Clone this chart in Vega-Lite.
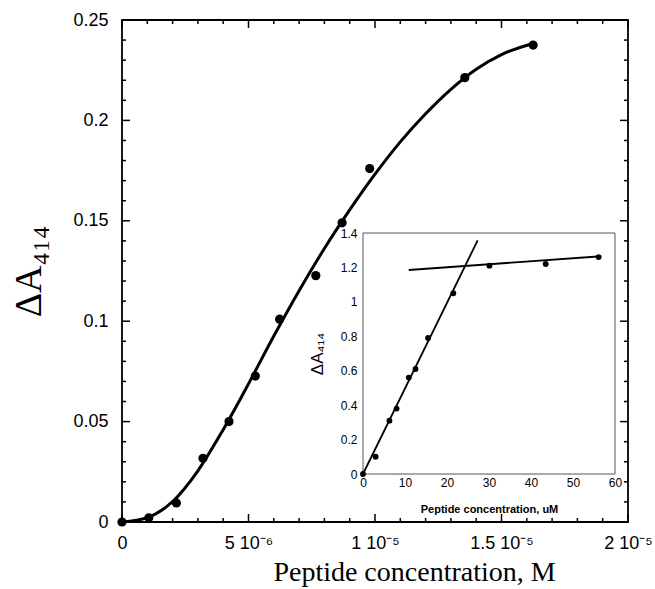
{
  "$schema": "https://vega.github.io/schema/vega-lite/v6.json",
  "width": 506,
  "height": 502,
  "autosize": {"type": "none"},
  "padding": {"left": 122, "top": 20, "right": 27, "bottom": 67},
  "background": "white",
  "config": {
    "view": {"stroke": "black", "strokeWidth": 1.8},
    "axis": {"grid": false, "labelColor": "black", "titleColor": "black", "tickColor": "black", "labelOverlap": false, "labelFlush": false}
  },
  "datasets": {
    "main": [
      {"conc": 0, "dA": 0},
      {"conc": 1.06e-6, "dA": 0.0021},
      {"conc": 2.15e-6, "dA": 0.0095},
      {"conc": 3.2e-6, "dA": 0.0317},
      {"conc": 4.23e-6, "dA": 0.05},
      {"conc": 5.27e-6, "dA": 0.0727},
      {"conc": 6.23e-6, "dA": 0.101},
      {"conc": 7.66e-6, "dA": 0.1227},
      {"conc": 8.7e-6, "dA": 0.149},
      {"conc": 9.79e-6, "dA": 0.176},
      {"conc": 1.355e-5, "dA": 0.2213},
      {"conc": 1.625e-5, "dA": 0.2375}
    ],
    "fit": [
      {"conc": 0, "dA": 0},
      {"conc": 1e-6, "dA": 0.0022},
      {"conc": 2e-6, "dA": 0.0102},
      {"conc": 3e-6, "dA": 0.0255},
      {"conc": 4e-6, "dA": 0.046},
      {"conc": 5e-6, "dA": 0.0688},
      {"conc": 6e-6, "dA": 0.0926},
      {"conc": 7e-6, "dA": 0.1152},
      {"conc": 8e-6, "dA": 0.1362},
      {"conc": 9e-6, "dA": 0.1554},
      {"conc": 1e-5, "dA": 0.1732},
      {"conc": 1.1e-5, "dA": 0.1893},
      {"conc": 1.2e-5, "dA": 0.2033},
      {"conc": 1.3e-5, "dA": 0.2155},
      {"conc": 1.4e-5, "dA": 0.2255},
      {"conc": 1.5e-5, "dA": 0.2328},
      {"conc": 1.625e-5, "dA": 0.2383}
    ],
    "xmajor": [{"v": 0}, {"v": 5e-6}, {"v": 1e-5}, {"v": 1.5e-5}, {"v": 2e-5}],
    "xminor": [
      {"v": 1e-6}, {"v": 2e-6}, {"v": 3e-6}, {"v": 4e-6}, {"v": 6e-6}, {"v": 7e-6}, {"v": 8e-6}, {"v": 9e-6},
      {"v": 1.1e-5}, {"v": 1.2e-5}, {"v": 1.3e-5}, {"v": 1.4e-5}, {"v": 1.6e-5}, {"v": 1.7e-5}, {"v": 1.8e-5}, {"v": 1.9e-5}
    ],
    "ymajor": [{"v": 0}, {"v": 0.05}, {"v": 0.1}, {"v": 0.15}, {"v": 0.2}, {"v": 0.25}],
    "yminor": [
      {"v": 0.01}, {"v": 0.02}, {"v": 0.03}, {"v": 0.04}, {"v": 0.06}, {"v": 0.07}, {"v": 0.08}, {"v": 0.09},
      {"v": 0.11}, {"v": 0.12}, {"v": 0.13}, {"v": 0.14}, {"v": 0.16}, {"v": 0.17}, {"v": 0.18}, {"v": 0.19},
      {"v": 0.21}, {"v": 0.22}, {"v": 0.23}, {"v": 0.24}
    ],
    "inset": [
      {"uM": 0, "dA": 0},
      {"uM": 3.0, "dA": 0.1},
      {"uM": 6.3, "dA": 0.31},
      {"uM": 8.0, "dA": 0.38},
      {"uM": 10.9, "dA": 0.56},
      {"uM": 12.5, "dA": 0.61},
      {"uM": 15.5, "dA": 0.79},
      {"uM": 21.5, "dA": 1.05},
      {"uM": 30.1, "dA": 1.21},
      {"uM": 43.5, "dA": 1.22},
      {"uM": 56.1, "dA": 1.26}
    ],
    "insetLines": [
      {"line": "rise", "uM": 0, "dA": 0},
      {"line": "rise", "uM": 27.3, "dA": 1.357},
      {"line": "plateau", "uM": 10.9, "dA": 1.185},
      {"line": "plateau", "uM": 56.7, "dA": 1.265}
    ],
    "frame": [{"x0": 0, "x1": 60, "y0": 0, "y1": 1.4}]
  },
  "resolve": {"scale": {"x": "independent", "y": "independent"}, "axis": {"x": "independent", "y": "independent"}},
  "layer": [
    {
      "layer": [
        {
          "data": {"name": "fit"},
          "mark": {"type": "line", "color": "black", "strokeWidth": 3, "interpolate": "monotone"},
          "encoding": {
            "x": {"field": "conc", "type": "quantitative", "scale": {"domain": [0, 2e-5], "nice": false},
              "axis": {"orient": "bottom", "domain": false, "ticks": false, "values": [0, 5e-6, 1e-5, 1.5e-5, 2e-5],
                "labelExpr": "datum.value == 0 ? '0' : datum.value < 7e-6 ? '5 10⁻⁶' : datum.value < 1.2e-5 ? '1 10⁻⁵' : datum.value < 1.7e-5 ? '1.5 10⁻⁵' : '2 10⁻⁵'",
                "labelFont": "Liberation Sans", "labelFontSize": 18, "labelPadding": 12,
                "title": "Peptide concentration, M", "titleFont": "Liberation Serif", "titleFontSize": 28, "titleFontWeight": "normal", "titlePadding": 6, "titleX": 292}},
            "y": {"field": "dA", "type": "quantitative", "scale": {"domain": [0, 0.25], "nice": false},
              "axis": {"orient": "left", "domain": false, "ticks": false, "values": [0, 0.05, 0.1, 0.15, 0.2, 0.25], "format": "~g",
                "labelFont": "Liberation Sans", "labelFontSize": 18, "labelPadding": 14,
                "title": "ΔA₄₁₄", "titleFont": "Liberation Serif", "titleFontSize": 38, "titleFontWeight": "normal", "titlePadding": 24}}
          }
        },
        {
          "data": {"name": "main"},
          "mark": {"type": "circle", "color": "black", "opacity": 1, "size": 85},
          "encoding": {
            "x": {"field": "conc", "type": "quantitative"},
            "y": {"field": "dA", "type": "quantitative"}
          }
        },
        {
          "data": {"name": "xmajor"},
          "mark": {"type": "tick", "orient": "vertical", "color": "black", "opacity": 1, "thickness": 1.5, "size": 8, "yOffset": -4},
          "encoding": {"x": {"field": "v", "type": "quantitative"}, "y": {"datum": 0, "type": "quantitative"}}
        },
        {
          "data": {"name": "xmajor"},
          "mark": {"type": "tick", "orient": "vertical", "color": "black", "opacity": 1, "thickness": 1.5, "size": 8, "yOffset": 4},
          "encoding": {"x": {"field": "v", "type": "quantitative"}, "y": {"datum": 0.25, "type": "quantitative"}}
        },
        {
          "data": {"name": "xminor"},
          "mark": {"type": "tick", "orient": "vertical", "color": "black", "opacity": 1, "thickness": 1.5, "size": 4, "yOffset": -2},
          "encoding": {"x": {"field": "v", "type": "quantitative"}, "y": {"datum": 0, "type": "quantitative"}}
        },
        {
          "data": {"name": "xminor"},
          "mark": {"type": "tick", "orient": "vertical", "color": "black", "opacity": 1, "thickness": 1.5, "size": 4, "yOffset": 2},
          "encoding": {"x": {"field": "v", "type": "quantitative"}, "y": {"datum": 0.25, "type": "quantitative"}}
        },
        {
          "data": {"name": "ymajor"},
          "mark": {"type": "tick", "orient": "horizontal", "color": "black", "opacity": 1, "thickness": 1.5, "size": 8, "xOffset": 4},
          "encoding": {"y": {"field": "v", "type": "quantitative"}, "x": {"datum": 0, "type": "quantitative"}}
        },
        {
          "data": {"name": "ymajor"},
          "mark": {"type": "tick", "orient": "horizontal", "color": "black", "opacity": 1, "thickness": 1.5, "size": 8, "xOffset": -4},
          "encoding": {"y": {"field": "v", "type": "quantitative"}, "x": {"datum": 2e-5, "type": "quantitative"}}
        },
        {
          "data": {"name": "yminor"},
          "mark": {"type": "tick", "orient": "horizontal", "color": "black", "opacity": 1, "thickness": 1.5, "size": 4, "xOffset": 2},
          "encoding": {"y": {"field": "v", "type": "quantitative"}, "x": {"datum": 0, "type": "quantitative"}}
        },
        {
          "data": {"name": "yminor"},
          "mark": {"type": "tick", "orient": "horizontal", "color": "black", "opacity": 1, "thickness": 1.5, "size": 4, "xOffset": -2},
          "encoding": {"y": {"field": "v", "type": "quantitative"}, "x": {"datum": 2e-5, "type": "quantitative"}}
        }
      ]
    },
    {
      "layer": [
        {
          "data": {"name": "frame"},
          "mark": {"type": "rect", "fill": "white", "stroke": "#555", "strokeWidth": 1},
          "encoding": {
            "x": {"field": "x0", "type": "quantitative", "scale": {"domain": [0, 60], "range": [241, 493], "nice": false},
              "axis": {"orient": "bottom", "offset": -48, "domain": false, "ticks": false, "values": [0, 10, 20, 30, 40, 50, 60],
                "labelFont": "Liberation Sans", "labelFontSize": 12, "labelPadding": 3,
                "title": "Peptide concentration, uM", "titleFont": "Liberation Sans", "titleFontSize": 11, "titleFontWeight": "bold", "titlePadding": 15}},
            "x2": {"field": "x1"},
            "y": {"field": "y0", "type": "quantitative", "scale": {"domain": [0, 1.4], "range": [454, 213], "nice": false},
              "axis": {"orient": "left", "offset": -241, "domain": false, "ticks": false, "values": [0, 0.2, 0.4, 0.6, 0.8, 1, 1.2, 1.4], "format": "~g",
                "labelFont": "Liberation Sans", "labelFontSize": 12, "labelPadding": 6,
                "title": "ΔA₄₁₄", "titleFont": "Liberation Sans", "titleFontSize": 17, "titleFontWeight": "normal", "titlePadding": 14}},
            "y2": {"field": "y1"}
          }
        },
        {
          "data": {"name": "insetLines"},
          "mark": {"type": "line", "color": "black", "strokeWidth": 1.8},
          "encoding": {
            "x": {"field": "uM", "type": "quantitative"},
            "y": {"field": "dA", "type": "quantitative"},
            "detail": {"field": "line"}
          }
        },
        {
          "data": {"name": "inset"},
          "mark": {"type": "circle", "color": "black", "opacity": 1, "size": 34},
          "encoding": {
            "x": {"field": "uM", "type": "quantitative"},
            "y": {"field": "dA", "type": "quantitative"}
          }
        }
      ]
    }
  ]
}
